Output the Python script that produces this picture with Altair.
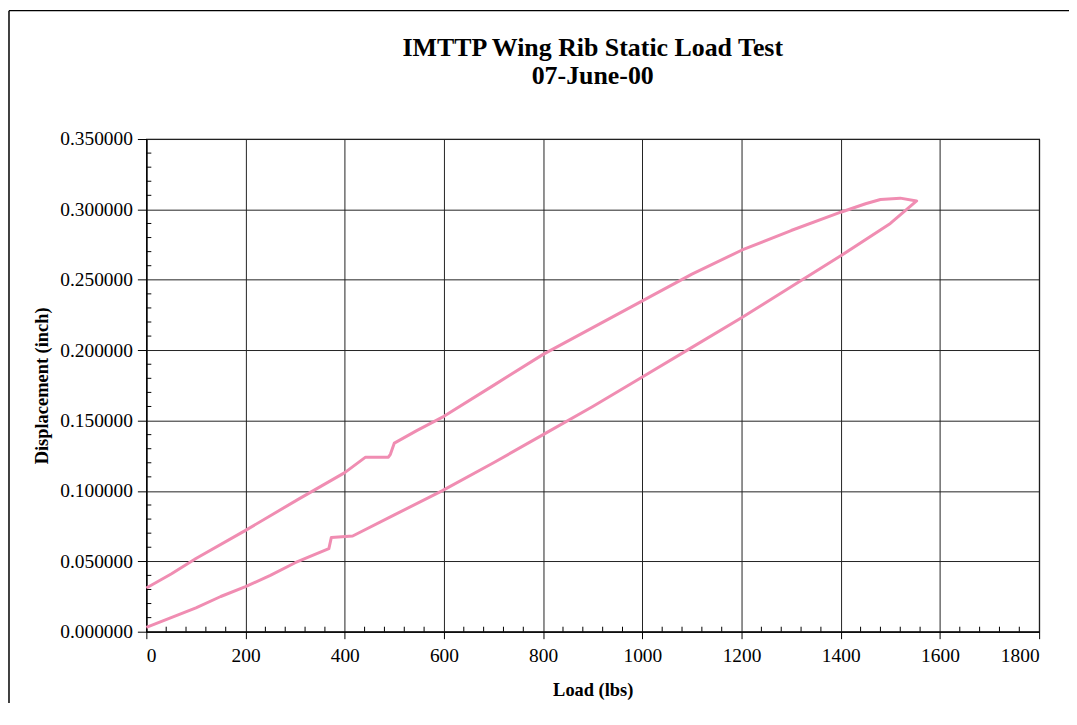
import altair as alt
import pandas as pd

# Loading path (lower branch), then unloading path (upper branch)
load_lbs = [0, 50, 100, 150, 200, 250, 300, 340, 368, 373, 416, 500, 596, 700, 800, 900, 1000,
            1100, 1200, 1300, 1400, 1500, 1553,
            1520, 1480, 1450, 1400, 1300, 1200, 1100, 1000, 900, 800, 700, 600, 546,
            500, 492, 488, 442, 400, 306, 200, 100, 50, 0]
disp_inch = [0.003, 0.010, 0.017, 0.025, 0.032, 0.040, 0.049, 0.055, 0.059, 0.067, 0.068, 0.083, 0.100,
             0.120, 0.140, 0.160, 0.181, 0.202, 0.223, 0.245, 0.267, 0.290, 0.306,
             0.308, 0.307, 0.304, 0.298, 0.285, 0.271, 0.254, 0.235, 0.216, 0.197, 0.175, 0.153, 0.143,
             0.134, 0.126, 0.124, 0.124, 0.113, 0.094, 0.072, 0.052, 0.041, 0.031]

x_ticks = [0, 200, 400, 600, 800, 1000, 1200, 1400, 1600, 1800]
y_ticks = [0.0, 0.05, 0.10, 0.15, 0.20, 0.25, 0.30, 0.35]
x_minor = [v for v in range(40, 1800, 40) if v % 200 != 0]
y_minor = [round(v * 0.01, 2) for v in range(1, 35) if v % 5 != 0]

title_lines = ["IMTTP Wing Rib Static Load Test", "07-June-00"]

W, H = 897, 495
FONT = "Liberation Serif"

df = pd.DataFrame({"load": load_lbs, "disp": disp_inch, "step": list(range(len(load_lbs)))})
xs = alt.Scale(domain=[0, 1800], nice=False)
ys = alt.Scale(domain=[0, 0.35], nice=False)

line = alt.Chart(df).mark_line(color="#f08db2", strokeWidth=3, strokeJoin="round").encode(
    x=alt.X("load:Q", scale=xs,
            axis=alt.Axis(title="Load (lbs)", values=x_ticks, format="d", grid=True,
                          tickSize=7, labelPadding=8, titlePadding=16)),
    y=alt.Y("disp:Q", scale=ys,
            axis=alt.Axis(title="Displacement (inch)", values=y_ticks, format=".6f", grid=True,
                          tickSize=9, labelPadding=5, titlePadding=8)),
    order="step:Q",
)

xm = alt.Chart(pd.DataFrame({"v": x_minor})).mark_rule(color="black", strokeWidth=1).encode(
    x=alt.X("v:Q", scale=xs), y=alt.value(H), y2=alt.value(H - 5))
ym = alt.Chart(pd.DataFrame({"v": y_minor})).mark_rule(color="black", strokeWidth=1).encode(
    y=alt.Y("v:Q", scale=ys), x=alt.value(0), x2=alt.value(5))

one = pd.DataFrame({"a": [0]})
frame_left = alt.Chart(one).mark_rule(color="black", strokeWidth=1.5).encode(
    x=alt.value(-138), y=alt.value(-129), y2=alt.value(H + 90))
frame_top = alt.Chart(one).mark_rule(color="black", strokeWidth=1.5).encode(
    x=alt.value(-138), x2=alt.value(W + 40), y=alt.value(-129))

title1 = alt.Chart(one).mark_text(text=title_lines[0], font=FONT, fontSize=26, fontWeight="bold",
                                  color="black", align="center", baseline="alphabetic").encode(
    x=alt.value(W / 2), y=alt.value(-83))
title2 = alt.Chart(one).mark_text(text=title_lines[1], font=FONT, fontSize=26, fontWeight="bold",
                                  color="black", align="center", baseline="alphabetic").encode(
    x=alt.value(W / 2), y=alt.value(-55))

chart = alt.layer(frame_left, frame_top, line, xm, ym, title1, title2).properties(
    width=W, height=H,
    autosize=alt.AutoSizeParams(type="none"),
    padding={"left": 139, "top": 130, "right": 30, "bottom": 70},
).configure_view(stroke="black", strokeWidth=1.2).configure_axis(
    labelFont=FONT, labelFontSize=19.5, labelColor="black",
    titleFont=FONT, titleFontSize=18.5, titleFontWeight="bold", titleColor="black",
    gridColor="#222222", gridWidth=1, gridOpacity=1,
    domainColor="black", tickColor="black", domainWidth=1.2,
)

chart.save("out.html", embed_options={"renderer": "svg", "actions": False})
